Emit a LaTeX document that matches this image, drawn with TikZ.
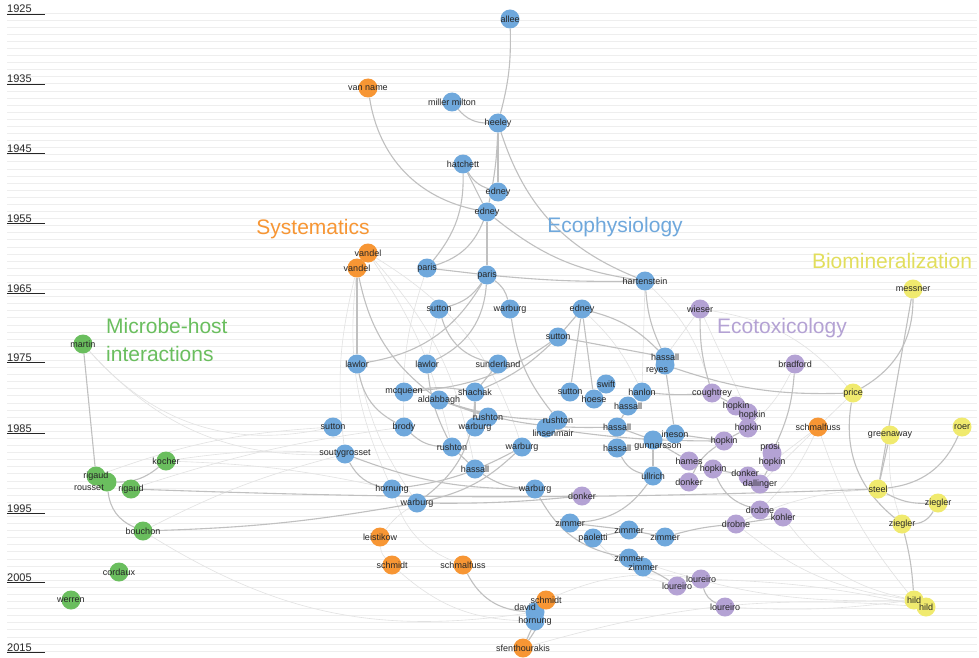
\documentclass[tikz,border=0pt]{standalone}
\usepackage{fontspec}
\setmainfont{Liberation Sans}
\usetikzlibrary{backgrounds}
\pgfdeclarelayer{dots}
\pgfsetlayers{background,dots,main}
\definecolor{ecoblue}{RGB}{111,168,220}
\definecolor{sysorange}{RGB}{247,150,52}
\definecolor{micgreen}{RGB}{106,190,94}
\definecolor{toxpurple}{RGB}{180,162,212}
\definecolor{bioyellow}{RGB}{240,234,110}
\definecolor{bioyellowtext}{RGB}{226,222,92}
\definecolor{linkgray}{RGB}{192,192,192}
\definecolor{faintgray}{RGB}{226,226,226}
\definecolor{rulegray}{RGB}{238,238,238}
\definecolor{textdark}{RGB}{38,38,38}

\tikzset{
  who/.style={text=textdark, font=\fontsize{9}{10}\selectfont, inner sep=0pt},
  dot/.style={circle, inner sep=0pt, minimum size=19pt,
    append after command={\pgfextra{\begin{pgfonlayer}{dots}
      \fill[#1] (\tikzlastnode.center) circle[radius=9.5pt];\end{pgfonlayer}}}},
  eco/.style={dot=ecoblue, label={[who]center:#1}},
  sys/.style={dot=sysorange, label={[who]center:#1}},
  mic/.style={dot=micgreen, label={[who]center:#1}},
  tox/.style={dot=toxpurple, label={[who]center:#1}},
  bio/.style={dot=bioyellow, label={[who]center:#1}},
  link/.style={draw=linkgray, line width=1.1pt},
  faint/.style={draw=faintgray, line width=0.6pt},
  era/.style={font=\fontsize{21}{28}\selectfont, inner sep=0pt},
  year/.style={font=\fontsize{11}{11}\selectfont, text=textdark, anchor=base west, inner sep=0pt}
}

\begin{document}
\begin{tikzpicture}[x=1pt,y=-1pt]
\useasboundingbox (0,0) rectangle (979,658);
\foreach \yr/\yy in {1925/13,1935/83,1945/152,1955/222,1965/292,1975/361,1985/432,1995/512,2005/581,2015/651}{
  \node[year] (y\yr) at (7,\yy) {\yr};
  \draw[textdark, line width=1.3pt] ([yshift=-1.6pt]y\yr.base west) -- ++(38,0);
}

\node[era, text=sysorange] (systitle) at (313,229) {Systematics};
\node[era, text=ecoblue] (ecotitle) at (615,227) {Ecophysiology};
\node[era, text=bioyellowtext] (biotitle) at (892,261) {Biomineralization};
\node[era, text=toxpurple] (toxtitle) at (782,328) {Ecotoxicology};
\node[era, text=micgreen, align=left, anchor=west] (mictitle) at (106,340) {Microbe-host\\interactions};

\node[eco=allee] (allee) at (510,19) {};
\node[eco=miller milton] (miller) at (452,102) {};
\node[eco=heeley] (heeley) at (498,123) {};
\node[eco=hatchett] (hatchett) at (463,164) {};
\node[eco=edney] (edneyA) at (498,192) {};
\node[eco=edney] (edneyB) at (487,212) {};
\node[eco=paris] (parisA) at (427,268) {};
\node[eco=paris] (parisB) at (487,275) {};
\node[eco=hartenstein] (harten) at (645,281) {};
\node[eco=sutton] (suttonA) at (439,309) {};
\node[eco=warburg] (warburgA) at (510,309) {};
\node[eco=edney] (edneyC) at (582,309) {};
\node[eco=sutton] (suttonB) at (558,337) {};
\node[eco=lawlor] (lawlorA) at (357,364) {};
\node[eco=lawlor] (lawlorB) at (427,364) {};
\node[eco=sunderland] (sunder) at (498,364) {};
\node[eco={}, label={[who,xshift=-8pt,yshift=-6pt]center:reyes}] (reyes) at (665,365) {};
\node[eco=hassall] (hassallA) at (665,357) {};
\node[eco=mcqueen] (mcqueen) at (404,392) {};
\node[eco=aldabbagh] (aldab) at (439,400) {};
\node[eco=shachak] (shachak) at (475,392) {};
\node[eco=sutton] (suttonC) at (570,392) {};
\node[eco=swift] (swift) at (606,384) {};
\node[eco=hoese] (hoese) at (594,399) {};
\node[eco=hanlon] (hanlon) at (642,392) {};
\node[eco=hassall] (hassallB) at (628,406) {};
\node[eco=sutton] (suttonD) at (333,427) {};
\node[eco=brody] (brody) at (404,427) {};
\node[eco=rushton] (rushtonA) at (488,417) {};
\node[eco=warburg] (warburgB) at (475,427) {};
\node[eco={}, label={[who,xshift=7pt,yshift=-5pt]center:linsenmair}] (linsen) at (546,428) {};
\node[eco=rushton] (rushtonB) at (558,420) {};
\node[eco=hassall] (hassallC) at (617,427) {};
\node[eco=hassall] (hassallD) at (617,448) {};
\node[eco=ineson] (ineson) at (675,434) {};
\node[eco={}, label={[who,xshift=5pt,yshift=-7pt]center:gunnarsson}] (gunnar) at (653,440) {};
\node[eco=soutygrosset] (souty) at (345,454) {};
\node[eco=rushton] (rushtonC) at (452,447) {};
\node[eco=warburg] (warburgC) at (522,447) {};
\node[eco=hassall] (hassallE) at (475,469) {};
\node[eco=hornung] (hornungA) at (392,489) {};
\node[eco=warburg] (warburgD) at (417,503) {};
\node[eco=warburg] (warburgE) at (535,489) {};
\node[eco=ullrich] (ullrich) at (653,476) {};
\node[eco=zimmer] (zimmerA) at (570,523) {};
\node[eco=paoletti] (paoletti) at (593,538) {};
\node[eco=zimmer] (zimmerB) at (629,530) {};
\node[eco=zimmer] (zimmerC) at (665,537) {};
\node[eco=zimmer] (zimmerD) at (629,558) {};
\node[eco=zimmer] (zimmerE) at (643,567) {};
\node[eco={}, label={[who,xshift=-10pt,yshift=5pt]center:david}] (david) at (535,612) {};
\node[eco=hornung] (hornungB) at (535,621) {};

\node[sys=van name] (vanname) at (368,88) {};
\node[sys=vandel] (vandelA) at (368,253) {};
\node[sys=vandel] (vandelB) at (357,268) {};
\node[sys=leistikow] (leistikow) at (380,537) {};
\node[sys=schmidt] (schmidtA) at (392,565) {};
\node[sys=schmalfuss] (schmalfussA) at (463,565) {};
\node[sys=schmidt] (schmidtB) at (546,600) {};
\node[sys=sfenthourakis] (sfenth) at (523,648) {};
\node[sys=schmalfuss] (schmalfussB) at (818,427) {};

\node[mic=martin] (martin) at (83,344) {};
\node[mic=kocher] (kocher) at (166,461) {};
\node[mic={}, label={[who,xshift=-18pt,yshift=-6pt]center:rousset}] (rousset) at (107,482) {};
\node[mic=rigaud] (rigaudA) at (96,476) {};
\node[mic=rigaud] (rigaudB) at (131,489) {};
\node[mic=bouchon] (bouchon) at (143,531) {};
\node[mic=cordaux] (cordaux) at (119,572) {};
\node[mic=werren] (werren) at (71,600) {};

\node[tox=wieser] (wieser) at (700,309) {};
\node[tox=bradford] (bradford) at (795,364) {};
\node[tox=coughtrey] (coughtrey) at (712,393) {};
\node[tox=hopkin] (hopkinA) at (736,406) {};
\node[tox={}, label={[who,xshift=4pt,yshift=-2pt]center:hopkin}] (hopkinB) at (748,413) {};
\node[tox=hopkin] (hopkinC) at (748,428) {};
\node[tox=hopkin] (hopkinD) at (724,441) {};
\node[tox=hames] (hames) at (689,461) {};
\node[tox=hopkin] (hopkinE) at (713,469) {};
\node[tox={}, label={[who,xshift=-2pt,yshift=6pt]center:prosi}] (prosi) at (772,453) {};
\node[tox=hopkin] (hopkinF) at (772,462) {};
\node[tox={}, label={[who,xshift=-3pt,yshift=3pt]center:donker}] (donkerA) at (748,476) {};
\node[tox=dallinger] (dallinger) at (760,484) {};
\node[tox=donker] (donkerB) at (689,482) {};
\node[tox=donker] (donkerC) at (582,496) {};
\node[tox=drobne] (drobneA) at (760,510) {};
\node[tox=kohler] (kohler) at (783,517) {};
\node[tox=drobne] (drobneB) at (736,524) {};
\node[tox=loureiro] (loureiroA) at (701,579) {};
\node[tox=loureiro] (loureiroB) at (677,586) {};
\node[tox=loureiro] (loureiroC) at (725,607) {};

\node[bio=messner] (messner) at (913,289) {};
\node[bio=price] (price) at (853,393) {};
\node[bio=greenaway] (greenaway) at (890,435) {};
\node[bio=roer] (roer) at (962,427) {};
\node[bio=steel] (steel) at (878,489) {};
\node[bio=ziegler] (zieglerA) at (938,503) {};
\node[bio=ziegler] (zieglerB) at (902,524) {};
\node[bio=hild] (hildA) at (914,600) {};
\node[bio=hild] (hildB) at (926,607) {};

\begin{scope}[on background layer]
\fill[white] (0,0) rectangle (979,658);
\foreach \r in {0,...,90}
  \draw[rulegray, line width=0.8pt] (7,13+7.09*\r) -- (977,13+7.09*\r);

\draw[faint] (martin) to[bend right=30] (suttonD);
\draw[faint] (martin) to[bend right=25] (souty);
\draw[faint] (rigaudA) to[bend left=8] (suttonD);
\draw[faint] (kocher) to[bend left=6] (souty);
\draw[faint] (kocher) to[bend left=5] (hornungA);
\draw[faint] (rigaudB) to[bend left=5] (brody);
\draw[faint] (bouchon) to[bend right=20] (david);
\draw[faint] (bouchon) to[bend left=6] (souty);
\draw[faint] (vandelA) to[bend left=10] (rushtonC);
\draw[faint] (vandelA) to[bend left=15] (hassallE);
\draw[faint] (vandelA) to[bend left=20] (warburgC);
\draw[faint] (vandelB) to[bend right=10] (souty);
\draw[faint] (vandelB) to[bend right=15] (hornungA);
\draw[faint] (lawlorA) to[bend right=10] (warburgD);
\draw[faint] (parisA) to[bend right=10] (brody);
\draw[faint] (suttonA) to (lawlorB);
\draw[faint] (leistikow) to[bend right=20] (schmidtA);
\draw[faint] (leistikow) to[bend left=10] (warburgD);
\draw[faint] (schmidtA) to[bend right=20] (hornungB);
\draw[faint] (hornungA) to[bend right=25] (schmalfussA);
\draw[faint] (zimmerD) to[bend right=10] (hildA);
\draw[faint] (loureiroC) to[bend right=5] (hildA);
\draw[faint] (loureiroA) to[bend left=5] (hildB);
\draw[faint] (drobneB) to[bend right=15] (hildA);
\draw[faint] (kohler) to[bend right=20] (hildA);
\draw[faint] (schmalfussB) to[bend right=10] (hildA);
\draw[faint] (schmalfussB) to (hopkinF);
\draw[faint] (schmalfussB) to (dallinger);
\draw[faint] (schmalfussB) to[bend left=10] (drobneA);
\draw[faint] (schmalfussB) to (price);
\draw[faint] (wieser) to[bend left=20] (price);
\draw[faint] (wieser) to (hopkinB);
\draw[faint] (wieser) to (hassallA);
\draw[faint] (bradford) to[bend left=10] (hopkinC);
\draw[faint] (sfenth) to[bend left=10] (hildB);
\draw[faint] (schmidtB) to[bend left=15] (loureiroA);
\draw[faint] (greenaway) to[bend right=10] (zieglerB);
\draw[faint] (drobneB) to[bend left=10] (steel);
\draw[faint] (paoletti) to[bend right=15] (loureiroB);
\draw[faint] (edneyC) to[bend left=10] (hanlon);
\draw[faint] (harten) to[bend left=15] (coughtrey);
\draw[faint] (harten) to (hanlon);

\draw[link] (allee) to[bend left=8] (heeley);
\draw[link] (miller) to[bend right=25] (heeley);
\draw[link] (heeley) -- (edneyA);
\draw[link] (heeley) to[bend left=5] (edneyB);
\draw[link] (heeley) to[bend right=25] (harten);
\draw[link] (vanname) to[bend right=35] (edneyB);
\draw[link] (hatchett) to[bend right=20] (edneyA);
\draw[link] (hatchett) -- (edneyB);
\draw[link] (hatchett) to[bend left=20] (parisA);
\draw[link] (edneyB) to[bend left=25] (parisA);
\draw[link] (edneyB) -- (parisB);
\draw[link] (edneyB) to[bend right=15] (harten);
\draw[link] (parisA) -- (parisB);
\draw[link] (parisB) to[bend right=3] (harten);
\draw[link] (parisB) to[bend left=20] (suttonA);
\draw[link] (parisB) to[bend left=25] (lawlorA);
\draw[link] (parisB) to[bend left=30] (lawlorB);
\draw[link] (parisB) to[bend left=20] (warburgA);
\draw[link] (vandelB) -- (lawlorA);
\draw[link] (vandelB) to[bend right=20] (aldab);
\draw[link] (suttonA) to[bend right=30] (sunder);
\draw[link] (warburgA) to[bend right=15] (rushtonB);
\draw[link] (edneyC) -- (suttonB);
\draw[link] (edneyC) -- (hoese);
\draw[link] (edneyC) to[bend left=15] (hassallA);
\draw[link] (edneyC) -- (suttonC);
\draw[link] (suttonB) to[bend left=10] (shachak);
\draw[link] (suttonB) to[bend left=15] (mcqueen);
\draw[link] (suttonB) -- (hassallA);
\draw[link] (harten) to[bend right=10] (hassallA);
\draw[link] (reyes) to[bend right=10] (price);
\draw[link] (wieser) to[bend right=8] (coughtrey);
\draw[link] (bradford) to[bend left=10] (prosi);
\draw[link] (messner) to[bend left=30] (price);
\draw[link] (messner) -- (steel);
\draw[link] (price) to[bend right=30] (zieglerB);
\draw[link] (greenaway) -- (steel);
\draw[link] (roer) to[bend left=30] (steel);
\draw[link] (steel) to[bend right=15] (zieglerA);
\draw[link] (zieglerA) to[bend left=30] (zieglerB);
\draw[link] (zieglerB) to[bend left=5] (hildA);
\draw[link] (rigaudB) to[bend right=2] (steel);
\draw[link] (bouchon) to[bend right=4] (warburgD);
\draw[link] (rousset) to[bend right=30] (bouchon);
\draw[link] (martin) -- (rigaudA);
\draw[link] (rousset) to[bend right=20] (kocher);
\draw[link] (lawlorA) to[bend right=25] (brody);
\draw[link] (lawlorB) to[bend right=10] (rushtonC);
\draw[link] (sunder) -- (shachak);
\draw[link] (mcqueen) to[bend left=10] (shachak);
\draw[link] (aldab) to[bend right=8] (rushtonB);
\draw[link] (aldab) to[bend right=10] (hassallC);
\draw[link] (aldab) -- (rushtonA);
\draw[link] (shachak) to[bend left=25] (warburgD);
\draw[link] (shachak) -- (warburgB);
\draw[link] (brody) to[bend right=20] (rushtonC);
\draw[link] (rushtonC) -- (hassallE);
\draw[link] (souty) to[bend right=25] (hornungA);
\draw[link] (souty) to[bend right=10] (warburgE);
\draw[link] (hornungA) to[bend right=10] (warburgC);
\draw[link] (warburgD) to[bend right=15] (warburgC);
\draw[link] (warburgD) to[bend right=3] (donkerC);
\draw[link] (hassallE) to[bend right=15] (warburgE);
\draw[link] (warburgE) to[bend right=25] (zimmerD);
\draw[link] (zimmerA) to[bend right=25] (ullrich);
\draw[link] (zimmerA) -- (zimmerB);
\draw[link] (paoletti) -- (zimmerB);
\draw[link] (zimmerB) -- (zimmerC);
\draw[link] (zimmerE) to[bend left=5] (loureiroB);
\draw[link] (loureiroA) to[bend right=25] (loureiroC);
\draw[link] (zimmerC) to[bend left=5] (drobneB);
\draw[link] (drobneB) -- (kohler);
\draw[link] (hopkinE) to[bend right=25] (drobneA);
\draw[link] (ineson) -- (hopkinD);
\draw[link] (hanlon) to[bend right=5] (coughtrey);
\draw[link] (coughtrey) -- (hopkinA);
\draw[link] (hopkinA) -- (hopkinB);
\draw[link] (hopkinB) -- (hopkinC);
\draw[link] (hopkinC) -- (hopkinD);
\draw[link] (hopkinE) -- (donkerA);
\draw[link] (prosi) -- (hopkinF);
\draw[link] (hopkinF) -- (dallinger);
\draw[link] (gunnar) -- (ullrich);
\draw[link] (hassallD) to[bend right=25] (ullrich);
\draw[link] (hassallB) -- (hassallC);
\draw[link] (reyes) -- (ineson);
\draw[link] (linsen) to[bend right=4] (hopkinD);
\draw[link] (hassallC) -- (gunnar);
\draw[link] (gunnar) -- (hames);
\draw[link] (hopkinD) to[bend right=15] (donkerB);
\draw[link] (schmalfussA) to[bend right=30] (david);
\draw[link] (sfenth) -- (hornungB);
\draw[link] (sfenth) to[bend right=10] (schmidtB);
\draw[link] (schmidtB) -- (hornungB);
\end{scope}
\end{tikzpicture}
\end{document}
